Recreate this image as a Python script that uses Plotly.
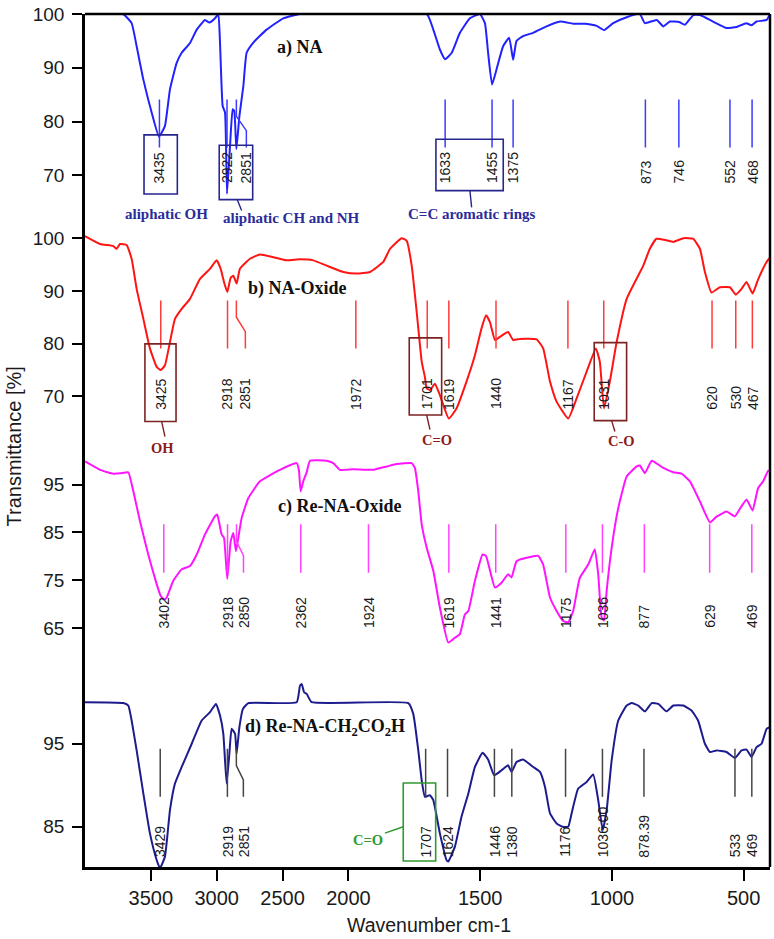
import plotly.graph_objects as go

# ---------------- data (wavenumber cm-1, transmittance %) ----------------
a_wn = [4000, 3711, 3646, 3608, 3557, 3494, 3438, 3393, 3355, 3304, 3266, 3203, 3152, 3089, 3056, 3013, 2988,
        2975, 2955, 2937, 2922, 2899, 2879, 2867, 2851, 2828, 2798, 2773, 2722, 2621, 2495, 2368,
        1703, 1678, 1653, 1633, 1608, 1577, 1539, 1501, 1482, 1470, 1455, 1438, 1413, 1390, 1375, 1362,
        1337, 1299, 1248, 1197, 1147, 1100, 1058, 1030, 995, 944, 894, 875, 830, 805, 780, 745, 723, 691,
        666, 616, 565, 527, 490, 470, 451, 413, 400]
a_T = [100, 100, 98.3, 94.0, 87.8, 81.7, 77.2, 79.2, 86.0, 90.9, 92.8, 94.6, 97.1, 98.9, 98.4, 99.2, 100,
       94.6, 82.9, 81.7, 66.6, 75.5, 82.3, 82.0, 74.9, 81.0, 86.6, 92.8, 94.7, 97.1, 99.2, 100,
       100, 97.1, 93.4, 91.6, 92.8, 96.5, 99.2, 100, 98.3, 92.8, 86.9, 89.7, 94.0, 95.6, 91.5, 95.0,
       95.9, 96.5, 97.7, 98.6, 98.2, 98.2, 97.8, 97.0, 98.3, 99.4, 100, 98.3, 98.9, 97.7, 98.6, 98.5, 98.0, 99.8,
       99.8, 98.6, 97.4, 97.6, 98.3, 97.9, 98.6, 98.9, 100]

b_wn = [4000, 3886, 3785, 3760, 3734, 3684, 3646, 3608, 3557, 3507, 3456, 3425, 3393, 3355, 3317, 3266, 3203,
        3127, 3051, 3001, 2970, 2945, 2920, 2894, 2874, 2849, 2824, 2748, 2672, 2571, 2469, 2368, 2267, 2166,
        2039, 1969, 1918, 1868, 1842, 1798, 1779, 1760, 1741, 1722, 1710, 1703, 1690, 1672, 1655, 1619, 1590,
        1552, 1520, 1495, 1478, 1463, 1444, 1425, 1394, 1375, 1349, 1286, 1261, 1235, 1210, 1166, 1134, 1096,
        1061, 1046, 1030, 1008, 982, 944, 881, 856, 831, 793, 767, 729, 692, 666, 647, 622, 590, 552, 530,
        508, 489, 466, 445, 413, 400]
b_T = [100.4, 98.9, 98.5, 98.0, 98.9, 98.7, 96.1, 90.4, 84.7, 79.1, 75.6, 75.0, 75.9, 80.3, 84.7, 86.6, 88.5,
       92.3, 94.2, 95.8, 94.2, 91.7, 89.8, 92.5, 92.9, 91.4, 94.2, 96.1, 96.9, 96.4, 95.8, 96.0, 95.8, 94.8,
       93.6, 93.3, 93.6, 95.5, 98.0, 100.0, 99.5, 94.8, 86.0, 76.6, 73.7, 71.5, 71.2, 72.4, 70.5, 65.8, 67.7,
       72.8, 77.8, 82.9, 85.4, 84.1, 80.7, 81.3, 82.2, 80.7, 80.9, 80.8, 79.1, 72.8, 69.0, 65.8, 69.6, 74.7,
       79.1, 76.6, 67.7, 72.8, 80.3, 88.5, 94.8, 98.0, 99.9, 99.6, 99.3, 100, 99.9, 98.0, 93.6, 89.7, 90.7, 90.7, 89.3,
       90.4, 91.7, 89.5, 92.2, 95.5, 96.3]

c_wn = [4000, 3886, 3785, 3700, 3671, 3633, 3583, 3520, 3456, 3425, 3400, 3380, 3330, 3266, 3203, 3152, 3089,
        3013, 2996, 2963, 2945, 2920, 2894, 2874, 2854, 2836, 2811, 2760, 2672, 2520, 2393, 2376, 2363, 2343,
        2317, 2292, 2166, 2115, 2065, 1982, 1906, 1880, 1855, 1817, 1760, 1748, 1735, 1722, 1703, 1678, 1653,
        1621, 1596, 1577, 1558, 1545, 1520, 1491, 1478, 1444, 1419, 1394, 1381, 1362, 1324, 1280, 1261, 1235,
        1210, 1185, 1166, 1147, 1122, 1090, 1065, 1052, 1039, 1030, 1020, 1001, 976, 944, 906, 894, 875, 849,
        805, 767, 736, 704, 666, 628, 603, 565, 533, 508, 489, 466, 445, 426, 407, 400]
c_T = [99.85, 98.1, 97.3, 97.5, 97.6, 93.6, 87.4, 80.4, 74.2, 71.7, 71.0, 71.4, 74.9, 77.3, 78.0, 80.4, 84.6,
       88.4, 88.75, 84.6, 83.9, 75.3, 83.2, 84.9, 81.1, 83.9, 88.0, 92.2, 95.7, 98.1, 99.5, 98.0, 93.6, 95.7,
       97.6, 100, 100, 99.5, 98.1, 98.2, 98.1, 98.5, 98.8, 99.3, 99.5, 98.5, 93.6, 86.7, 81.8, 77.0, 69.3,
       62.0, 63.0, 63.75, 67.9, 68.6, 74.9, 80.4, 80.1, 73.5, 74.5, 76.25, 75.6, 79.0, 79.7, 80.1, 78.3, 71.4,
       68.6, 66.5, 66.2, 68.6, 75.5, 78.3, 81.5, 76.25, 67.2, 66.6, 72.8, 81.8, 90.1, 96.7, 98.8, 99.0, 97.4, 100,
       98.5, 97.6, 97.3, 95.7, 91.5, 87.1, 88.3, 89.4, 88.4, 90.5, 91.9, 89.6, 94.3, 95.7, 97.9, 97.9]

d_wn = [4000, 3709, 3671, 3646, 3608, 3557, 3507, 3456, 3431, 3393, 3355, 3317, 3266, 3190, 3114, 3051, 3006,
        2975, 2950, 2925, 2904, 2887, 2861, 2849, 2828, 2801, 2760, 2393, 2368, 2355, 2337, 2317, 2279, 1773,
        1754, 1735, 1722, 1710, 1691, 1678, 1653, 1628, 1621, 1596, 1571, 1545, 1520, 1491, 1470, 1447, 1419,
        1394, 1381, 1362, 1337, 1299, 1273, 1254, 1235, 1210, 1187, 1166, 1153, 1128, 1096, 1071, 1052, 1035,
        1020, 1001, 976, 944, 925, 900, 875, 849, 824, 793, 767, 729, 698, 673, 647, 628, 603, 565, 533, 508,
        489, 470, 451, 432, 413, 400]
d_T = [100, 99.9, 99.6, 97.8, 94.2, 89.0, 84.2, 81.0, 80.0, 81.4, 87.0, 90.2, 92.2, 95.0, 97.8, 98.8, 99.8,
       98.4, 96.2, 90.2, 93.8, 96.8, 96.2, 93.8, 97.0, 99.2, 99.9, 100, 102.0, 102.2, 101.2, 101.0, 100, 99.9,
       98.6, 94.2, 90.6, 88.6, 88.8, 88.2, 84.2, 81.0, 80.8, 82.6, 86.2, 89.0, 92.2, 93.9, 93.1, 91.2, 91.8,
       92.4, 91.6, 92.8, 93.1, 92.2, 91.6, 89.8, 86.6, 85.4, 85.0, 85.0, 86.6, 89.6, 90.4, 91.3, 88.2, 84.6,
       87.0, 93.0, 97.8, 99.6, 99.9, 99.6, 98.9, 99.9, 99.8, 98.9, 99.6, 99.6, 99.0, 97.8, 95.0, 94.0, 94.2, 94.0, 93.3, 94.2,
       94.3, 93.4, 94.6, 95.0, 96.8, 97.0]

a_peaks = [3435, 2922, 2851, 1633, 1455, 1375, 873, 746, 552, 468]
a_peak_labels = ["3435", "2922", "2851", "1633", "1455", "1375", "873", "746", "552", "468"]
b_peaks = [3425, 2918, 2851, 1972, 1701, 1619, 1440, 1167, 1031, 620, 530, 467]
b_peak_labels = ["3425", "2918", "2851", "1972", "1701", "1619", "1440", "1167", "1031", "620", "530", "467"]
c_peaks = [3402, 2918, 2850, 2362, 1924, 1619, 1441, 1175, 1036, 877, 629, 469]
c_peak_labels = ["3402", "2918", "2850", "2362", "1924", "1619", "1441", "1175", "1036", "877", "629", "469"]
d_peaks = [3429, 2919, 2851, 1707, 1624, 1446, 1380, 1176, 1036, 878.39, 533, 469]
d_peak_labels = ["3429", "2919", "2851", "1707", "1624", "1446", "1380", "1176", "1036.00", "878.39", "533", "469"]

x_tick_values = [3500, 3000, 2500, 2000, 1500, 1000, 500]
x_tick_labels = ["3500", "3000", "2500", "2000", "1500", "1000", "500"]

panel_titles = ["a) NA", "b) NA-Oxide", "c) Re-NA-Oxide", "d) Re-NA-CH<sub>2</sub>CO<sub>2</sub>H"]


# axis scale: 4000-2000 compressed 2x relative to 2000-400 (usual FTIR split scale)
def tx(w):
    return w if w <= 2000 else 2000 + (w - 2000) / 2.0


UNITS_PER_PX = (tx(4000) - 400) / 685.0

panels = [
    dict(wn=a_wn, T=a_T, peaks=a_peaks, labels=a_peak_labels, ax="y", lay="yaxis",
         domain=[0.76168, 1.0], rng=[62.22, 100.0], ticks=[70, 80, 90, 100],
         color="#2222ff", mcol="#3b3bff", top=84.1, bot=75.2, laby=68.3, shift={"2851": 10},
         title_w=2368, title_v=93.7),
    dict(wn=b_wn, T=b_T, peaks=b_peaks, labels=b_peak_labels, ax="y2", lay="yaxis2",
         domain=[0.49883, 0.76168], rng=[61.44, 103.97], ticks=[70, 80, 90, 100],
         color="#ff1414", mcol="#ff3c3c", top=88.2, bot=79.1, laby=67.3, shift={"2851": 9},
         title_w=2387, title_v=90.4),
    dict(wn=c_wn, T=c_T, peaks=c_peaks, labels=c_peak_labels, ax="y3", lay="yaxis3",
         domain=[0.24182, 0.49883], rng=[58.19, 104.02], ticks=[65, 75, 85, 95],
         color="#ff14ff", mcol="#ff44ff", top=86.7, bot=76.6, laby=64.8, shift={"2850": 7},
         title_w=2067, title_v=90.5),
    dict(wn=d_wn, T=d_T, peaks=d_peaks, labels=d_peak_labels, ax="y4", lay="yaxis4",
         domain=[0.0, 0.24182], rng=[80.15, 105.0], ticks=[85, 95],
         color="#1c1c8e", mcol="#454545", top=94.4, bot=88.6, laby=81.2, shift={"2851": 7},
         title_w=2178, title_v=97.0),
]
panel_by_ax = {p["ax"]: p for p in panels}


def to_paper(ax, v):
    """Convert a value of a panel's y scale to paper fraction (so notes outside the range still show)."""
    p = panel_by_ax[ax]
    d0, d1 = p["domain"]
    r0, r1 = p["rng"]
    return d0 + (v - r0) / (r1 - r0) * (d1 - d0)


fig = go.Figure()
shapes = []
annotations = []

AXFONT = "Liberation Sans, Arial, sans-serif"
SERIF = "Liberation Serif, Times New Roman, serif"

layout_axes = {}
for i, p in enumerate(panels):
    fig.add_trace(go.Scatter(x=[tx(w) for w in p["wn"]], y=p["T"], mode="lines",
                             line=dict(color=p["color"], width=2, shape="spline", smoothing=0.4),
                             yaxis=p["ax"], xaxis="x", showlegend=False, hoverinfo="skip"))
    layout_axes[p["lay"]] = dict(domain=p["domain"], range=p["rng"], anchor="x", tickvals=p["ticks"],
                                 showline=True, linecolor="black", linewidth=2.5, ticks="outside",
                                 ticklen=10, tickwidth=2, tickcolor="black", showgrid=False,
                                 zeroline=False, tickfont=dict(family=AXFONT, size=19, color="#1a1a1a"),
                                 ticklabelstandoff=4)
    top, bot = p["top"], p["bot"]
    for w, lab in zip(p["peaks"], p["labels"]):
        x0 = tx(w)
        s = p["shift"].get(lab, 0)
        if s:
            x2 = x0 - s * UNITS_PER_PX
            y1 = top - 0.35 * (top - bot)
            y2 = top - 0.65 * (top - bot)
            shapes.append(dict(type="path", xref="x", yref=p["ax"],
                               path=f"M {x0},{top} L {x0},{y1} L {x2},{y2} L {x2},{bot}",
                               line=dict(color=p["mcol"], width=1.5)))
        else:
            shapes.append(dict(type="line", xref="x", yref=p["ax"], x0=x0, x1=x0, y0=top, y1=bot,
                               line=dict(color=p["mcol"], width=1.5)))
        annotations.append(dict(x=x0, y=to_paper(p["ax"], p["laby"]), xref="x", yref="paper", text=lab,
                                showarrow=False, textangle=-90, xanchor="center", yanchor="bottom",
                                xshift=s, font=dict(family=AXFONT, size=14, color="#1a1a1a"), borderpad=0))
    annotations.append(dict(x=tx(p["title_w"]), y=to_paper(p["ax"], p["title_v"]), xref="x", yref="paper",
                            text="<b>" + panel_titles[i] + "</b>", showarrow=False,
                            xanchor="center", yanchor="middle",
                            font=dict(family=SERIF, size=18, color="#111111")))

# ---- highlight boxes, connectors and group notes ----
NAVY = "#26268f"
MAROON = "#7d2222"
GREEN = "#2e9a2e"


def box(ax, w0, w1, v0, v1, col):
    shapes.append(dict(type="rect", xref="x", yref=ax, x0=tx(w0), x1=tx(w1), y0=v0, y1=v1,
                       line=dict(color=col, width=1.6)))


def seg(ax, w0, v0, w1, v1, col):
    shapes.append(dict(type="line", xref="x", yref="paper", x0=tx(w0), x1=tx(w1),
                       y0=to_paper(ax, v0), y1=to_paper(ax, v1), line=dict(color=col, width=1.4)))


def note(ax, w, v, text, col, size=15):
    annotations.append(dict(x=tx(w), y=to_paper(ax, v), xref="x", yref="paper", text="<b>" + text + "</b>",
                            showarrow=False, xanchor="center", yanchor="middle",
                            font=dict(family=SERIF, size=size, color=col)))


# panel a
box("y", 3552, 3299, 66.54, 77.54, NAVY)
box("y", 2981, 2727, 65.5, 75.61, NAVY)
box("y", 1668, 1412.5, 67.17, 76.72, NAVY)
seg("y", 2844, 65.5, 2811, 63.46, NAVY)
seg("y", 1539, 67.17, 1532.5, 64.07, NAVY)
note("y", 3380, 62.8, "aliphatic OH", "#2b2b9a")
note("y", 2436, 62.04, "aliphatic CH and NH", "#2b2b9a")
note("y", 1529.4, 62.8, "C=C aromatic rings", "#2b2b9a")

# panel b
box("y2", 3545, 3309, 65.22, 79.96, MAROON)
box("y2", 1769.3, 1646.3, 66.48, 81.1, MAROON)
box("y2", 1067.2, 944.3, 65.4, 80.2, MAROON)
seg("y2", 3418, 65.22, 3393, 62.38, MAROON)
seg("y2", 1703.3, 66.48, 1690.7, 63.7, MAROON)
seg("y2", 1001.2, 65.4, 988.7, 63.33, MAROON)
note("y2", 3408, 60.17, "OH", "#8b1c1c", 14.5)
note("y2", 1665.3, 61.76, "C=O", "#8b1c1c", 14.5)
note("y2", 964.7, 61.44, "C-O", "#8b1c1c", 14.5)

# panel d
box("y4", 1792, 1669, 80.87, 90.27, GREEN)
seg("y4", 1861.5, 84.23, 1792, 85.0, GREEN)
note("y4", 1926, 83.4, "C=O", GREEN, 14.5)

# frame (top and right borders)
shapes.append(dict(type="line", xref="paper", yref="paper", x0=0, x1=1, y0=1, y1=1,
                   line=dict(color="black", width=2.5)))
shapes.append(dict(type="line", xref="paper", yref="paper", x0=1, x1=1, y0=0, y1=1,
                   line=dict(color="black", width=2.5)))

# axis titles
annotations.append(dict(x=0.502, y=-0.0678, xref="paper", yref="paper", text="Wavenumber cm-1",
                        showarrow=False, xanchor="center", yanchor="middle",
                        font=dict(family=AXFONT, size=19.5, color="#1a1a1a")))
annotations.append(dict(x=-0.1036, y=0.493, xref="paper", yref="paper", text="Transmittance [%]",
                        showarrow=False, xanchor="center", yanchor="middle", textangle=-90,
                        font=dict(family=AXFONT, size=20, color="#1a1a1a")))

fig.update_layout(
    width=774, height=939,
    margin=dict(l=85, r=4, t=11, b=72),
    paper_bgcolor="white", plot_bgcolor="white",
    showlegend=False,
    xaxis=dict(domain=[0, 1], anchor="y4", range=[tx(4000), 400],
               tickvals=[tx(v) for v in x_tick_values], ticktext=x_tick_labels,
               showline=True, linecolor="black", linewidth=2.5, ticks="outside", ticklen=11,
               tickwidth=2, tickcolor="black", showgrid=False, zeroline=False,
               tickfont=dict(family=AXFONT, size=20, color="#1a1a1a")),
    shapes=shapes,
    annotations=annotations,
    **layout_axes,
)

fig.write_html("out.html")
